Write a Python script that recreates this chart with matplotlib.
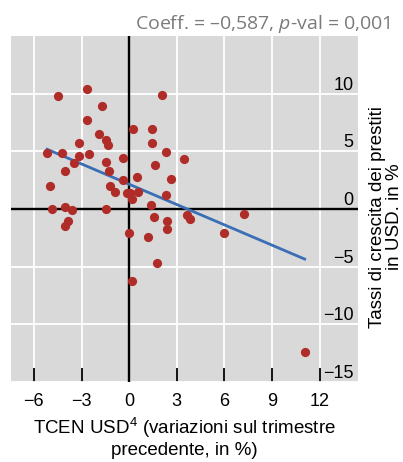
import matplotlib
matplotlib.use("Agg")
import matplotlib.pyplot as plt
import numpy as np

plt.rcParams.update({"font.family": "Liberation Sans", "font.size": 13,
                     "mathtext.fontset": "custom", "mathtext.rm": "Liberation Sans",
                     "mathtext.it": "Open Sans:italic"})

# Scatter data: TCEN USD (x) vs loan growth in USD (y)
tcen = [-4.47, -2.65, -1.74, -2.65, -1.87, -1.43, -1.36, 0.25, -3.13, -5.17,
        -4.20, -3.13, -2.54, -3.50, -1.49, -0.38, -4.03, -1.24, -4.98, -0.38,
        0.47, -1.20, 2.06, 1.41, 1.45, 2.29, 3.43, 1.60, 2.63, -0.90,
        -0.13, 0.08, 0.15, 0.53, 2.29, 1.35, -4.83, -4.07, -3.63, -1.43,
        -3.88, -4.03, 0.00, 0.15, 1.56, 2.40, 2.36, 3.61, 3.82, 5.99,
        7.23, 1.18, 1.73, 11.05]
loans = [9.78, 10.45, 8.94, 7.71, 6.55, 5.97, 5.51, 6.90, 5.77, 4.82,
         4.82, 4.59, 4.76, 3.96, 4.04, 4.39, 3.29, 3.32, 2.02, 2.51,
         2.74, 1.99, 9.87, 6.90, 5.71, 4.96, 4.33, 3.84, 2.63, 1.44,
         1.38, 1.42, 0.84, 1.44, 1.18, 0.37, -0.03, 0.17, -0.09, 0.00,
         -1.01, -1.47, -2.08, -6.21, -0.72, -1.07, -1.70, -0.52, -0.84, -2.05,
         -0.43, -2.40, -4.70, -12.36]
slope = -0.587
intercept = 2.15
xticks = [-6, -3, 0, 3, 6, 9, 12]
yticks = [-15, -10, -5, 0, 5, 10]

fig = plt.figure(figsize=(4.03, 4.62), dpi=100)
ax = fig.add_axes([0.027, 0.173, 0.861, 0.749])
ax.set_facecolor("#d9d9d9")
ax.set_xlim(-7.45, 14.4)
ax.set_ylim(-15, 15)
ax.set_xticks(xticks)
ax.set_yticks(yticks)
ax.grid(True, color="white", lw=1.3)
ax.set_axisbelow(True)
for s in ax.spines.values():
    s.set_visible(False)

ax.axhline(0, color="black", lw=1.7, zorder=1)
ax.axvline(0, color="black", lw=1.7, zorder=1)

ax.scatter(tcen, loans, s=44, color="#b02c28", zorder=3, linewidths=0)
xl = np.array([min(tcen), max(tcen)])
ax.plot(xl, intercept + slope * xl, color="#3a6eb5", lw=2.0, zorder=2)

ax.tick_params(axis="x", direction="in", length=10, width=1.3, color="black", pad=8, labelsize=13)
ax.yaxis.tick_right()
ax.tick_params(axis="y", length=0, pad=-3, labelsize=13)
for lbl in ax.get_yticklabels():
    lbl.set_horizontalalignment("right")
    lbl.set_verticalalignment("bottom")

ax.set_xlabel("TCEN USD$^{4}$ (variazioni sul trimestre\nprecedente, in %)", fontsize=13.5, labelpad=4)
fig.text(386 / 403, 1 - 217 / 462, "Tassi di crescita dei prestiti\nin USD. in %", rotation=90,
         ha="center", va="center", multialignment="center", fontsize=13.5, linespacing=1.05)
fig.text(391 / 403, 1 - 29 / 462, "Coeff. = \u20130,587, $p$-val = 0,001", ha="right", va="baseline",
         fontsize=14, color="#7a7a7a", family="Open Sans")

fig.savefig("out.png", dpi=100)
